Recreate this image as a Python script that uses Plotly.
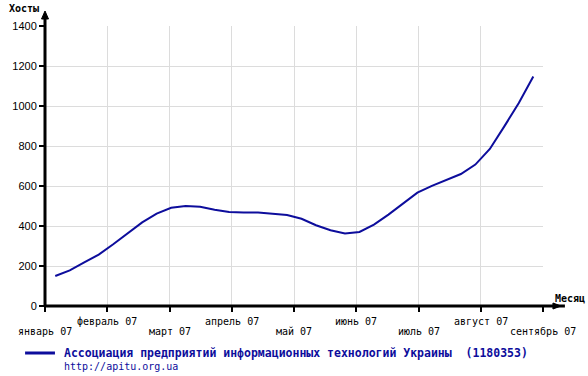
import plotly.graph_objects as go

# weekly points, x in months from 1 Jan 2007
weeks_x = [0.165 + 0.2327 * k for k in range(34)]
hosts = [150, 178, 218, 257, 309, 363, 418, 462, 491, 500,
         496, 481, 470, 468, 467, 461, 455, 436, 404, 379,
         363, 370, 407, 457, 511, 567, 601, 629, 660, 707,
         785, 898, 1015, 1147]

month_pos = [0, 1, 2, 3, 4, 5, 6, 7, 8]
month_labels = ["январь 07", "февраль 07", "март 07", "апрель 07", "май 07",
                "июнь 07", "июль 07", "август 07", "сентябрь 07"]
y_ticks = [0, 200, 400, 600, 800, 1000, 1200, 1400]

series_name = "Ассоциация предприятий информационных технологий Украины  (1180353)"
url = "http://apitu.org.ua"
blue = "#0d0d9c"

L, R, T, B = 43, 543, 26, 306
W, H = 588, 376
def px(x):
    return (x - L) / (R - L)
def py(y):
    return (B - y) / (B - T)

fig = go.Figure()
fig.add_trace(go.Scatter(x=weeks_x, y=hosts, mode="lines",
                         line=dict(color=blue, width=2), name=series_name,
                         showlegend=False, hoverinfo="skip"))

mono = "DejaVu Sans Mono"
fig.update_layout(
    width=W, height=H, margin=dict(l=L, r=W - R, t=T, b=H - B),
    paper_bgcolor="white", plot_bgcolor="white",
    xaxis=dict(range=[0, 8], tickvals=month_pos, showticklabels=False,
               showgrid=True, gridcolor="#dcdcdc", gridwidth=1,
               ticks="outside", ticklen=5, tickwidth=2, tickcolor="black",
               zeroline=False, showline=False, fixedrange=True),
    yaxis=dict(range=[0, 1400], tickvals=y_ticks, ticktext=[str(v) for v in y_ticks],
               showgrid=True, gridcolor="#dcdcdc", gridwidth=1,
               ticks="outside", ticklen=5, tickwidth=2, tickcolor="black",
               tickfont=dict(family="Liberation Sans", size=11, color="black"),
               zeroline=False, showline=False, fixedrange=True),
)

shapes = []
# y axis line with arrow
shapes.append(dict(type="line", xref="paper", yref="paper",
                   x0=px(L), x1=px(L), y0=py(B + 1), y1=py(16),
                   line=dict(color="black", width=3)))
shapes.append(dict(type="path", xref="paper", yref="paper",
                   path=f"M {px(L-3.5)} {py(19)} L {px(L+3.5)} {py(19)} L {px(L)} {py(11)} Z",
                   fillcolor="black", line=dict(color="black", width=1)))
# x axis line with arrow
shapes.append(dict(type="line", xref="paper", yref="paper",
                   x0=px(L - 1), x1=px(565), y0=py(B), y1=py(B),
                   line=dict(color="black", width=3)))
shapes.append(dict(type="path", xref="paper", yref="paper",
                   path=f"M {px(553)} {py(B-3)} L {px(553)} {py(B+3)} L {px(561)} {py(B)} Z",
                   fillcolor="black", line=dict(color="black", width=1)))
# legend line
shapes.append(dict(type="line", xref="paper", yref="paper",
                   x0=px(23), x1=px(53), y0=py(353), y1=py(353),
                   line=dict(color=blue, width=3)))
fig.update_layout(shapes=shapes)

ann = []
for i, (m, lab) in enumerate(zip(month_pos, month_labels)):
    ypix = 331 if i % 2 == 0 else 321
    ann.append(dict(x=m, xref="x", y=py(ypix), yref="paper", text=lab,
                    showarrow=False, xanchor="center", yanchor="middle",
                    font=dict(family=mono, size=10, color="black")))
ann.append(dict(x=px(5), y=py(8), xref="paper", yref="paper", text="<b>Хосты</b>",
                showarrow=False, xanchor="left", yanchor="middle",
                font=dict(family=mono, size=10, color="black")))
ann.append(dict(x=px(553), y=py(298), xref="paper", yref="paper", text="<b>Месяц</b>",
                showarrow=False, xanchor="left", yanchor="middle",
                font=dict(family=mono, size=10, color="black")))
ann.append(dict(x=px(60), y=py(353), xref="paper", yref="paper", text="<b>" + series_name + "</b>",
                showarrow=False, xanchor="left", yanchor="middle",
                font=dict(family=mono, size=11.5, color=blue)))
ann.append(dict(x=px(60), y=py(366), xref="paper", yref="paper", text=url,
                showarrow=False, xanchor="left", yanchor="middle",
                font=dict(family=mono, size=10, color=blue)))
fig.update_layout(annotations=ann)

fig.write_html("out.html")
